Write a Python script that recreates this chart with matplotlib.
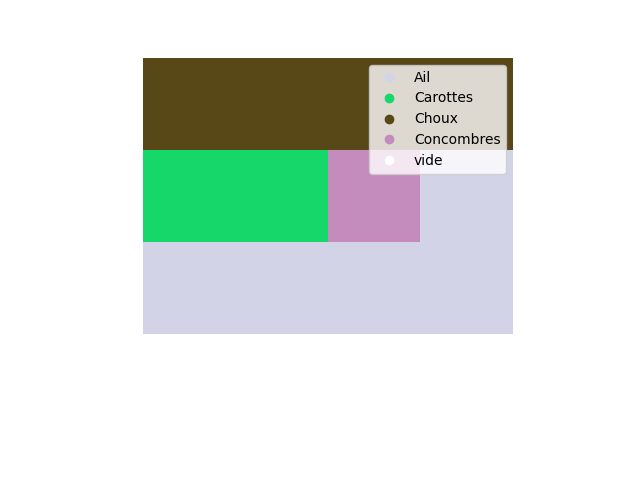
import numpy as np
import matplotlib
matplotlib.use("Agg")
import matplotlib.pyplot as plt
from matplotlib.colors import ListedColormap
from matplotlib.lines import Line2D

# plant names and their colours
plantes = ['Ail', 'Carottes', 'Choux', 'Concombres', 'vide']
couleurs = ['#d3d3e8', '#15d76a', '#584818', '#c48bbd', '#ffffff']

# garden grid (indices into plantes)
jardin = [
    [2, 2, 2, 2],
    [1, 1, 3, 0],
    [0, 0, 0, 0],
]

fig = plt.figure(figsize=(6.4, 4.8), dpi=100)
ax = fig.add_axes([143 / 640, (480 - 334) / 480, 370 / 640, 276 / 480])
cmap = ListedColormap(couleurs)
ax.imshow(np.array(jardin), cmap=cmap, vmin=-0.5, vmax=len(plantes) - 0.5,
          aspect='auto', interpolation='nearest')
ax.axis('off')

handles = [Line2D([0], [0], marker='o', linestyle='', color=c, label=p)
           for p, c in zip(plantes, couleurs)]
ax.legend(handles=handles, loc='upper right')

fig.savefig('out.png')
